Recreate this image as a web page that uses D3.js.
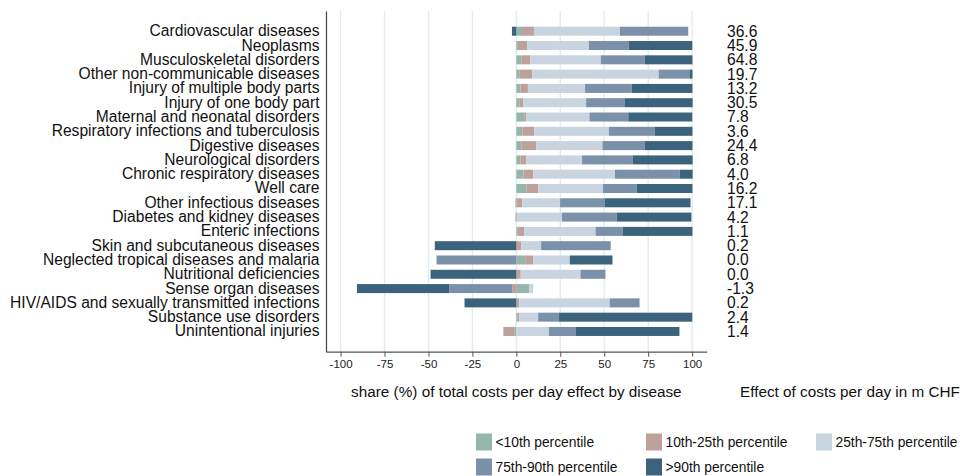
<!DOCTYPE html>
<html>
<head>
<meta charset="utf-8">
<script src="https://cdn.jsdelivr.net/npm/d3@7"></script>
<style>
  html, body { margin: 0; padding: 0; background: #fff; }
  svg { display: block; font-family: "Liberation Sans", Arial, sans-serif; }
</style>
</head>
<body>
<svg id="chart" width="963" height="476"></svg>
<script>
const categories = [
  "Cardiovascular diseases",
  "Neoplasms",
  "Musculoskeletal disorders",
  "Other non-communicable diseases",
  "Injury of multiple body parts",
  "Injury of one body part",
  "Maternal and neonatal disorders",
  "Respiratory infections and tuberculosis",
  "Digestive diseases",
  "Neurological disorders",
  "Chronic respiratory diseases",
  "Well care",
  "Other infectious diseases",
  "Diabetes and kidney diseases",
  "Enteric infections",
  "Skin and subcutaneous diseases",
  "Neglected tropical diseases and malaria",
  "Nutritional deficiencies",
  "Sense organ diseases",
  "HIV/AIDS and sexually transmitted infections",
  "Substance use disorders",
  "Unintentional injuries"
];

const seriesKeys = ["<10th percentile", "10th-25th percentile", "25th-75th percentile", "75th-90th percentile", ">90th percentile"];

const below10 = [3.2, 0.9, 2.8, 1.7, 2.3, 1.7, 4.5, 3.4, 2.8, 2.3, 4.0, 5.7, -0.5, -0.5, 0.5, 0.0, 5.0, 0.3, 7.3, 0.2, 0.5, -1.2];
const p10to25 = [6.8, 5.3, 5.1, 7.4, 4.3, 2.3, 1.1, 6.8, 8.5, 3.4, 5.7, 6.8, 3.4, 0.5, 4.0, 2.8, 4.5, 2.2, -2.4, 1.4, 1.1, -6.2];
const p25to75 = [48.9, 35.1, 40.2, 71.9, 32.5, 35.7, 36.0, 42.5, 37.7, 31.7, 46.4, 36.8, 21.5, 25.5, 40.6, 11.3, 20.9, 34.0, 2.3, 51.5, 10.8, 18.6];
const p75to90 = [38.9, 22.6, 24.9, 17.5, 26.6, 22.1, 22.1, 26.0, 24.0, 28.9, 36.8, 19.2, 25.5, 31.1, 15.5, 39.6, -45.4, 14.2, -35.7, 17.0, 11.9, 15.3];
const above90 = [-2.5, 36.2, 27.2, 1.7, 34.5, 38.5, 36.4, 21.5, 27.2, 34.0, 7.4, 31.7, 48.7, 42.5, 39.6, -46.4, 24.3, -48.8, -52.6, -29.5, 75.8, 58.9];

const effectLabels = ["36.6", "45.9", "64.8", "19.7", "13.2", "30.5", "7.8", "3.6", "24.4", "6.8", "4.0", "16.2", "17.1", "4.2", "1.1", "0.2", "0.0", "0.0", "-1.3", "0.2", "2.4", "1.4"];

const tickValues = [-100, -75, -50, -25, 0, 25, 50, 75, 100];

const colors = ["#94b6ab", "#bfa19b", "#c8d4df", "#7b91a9", "#3c637d"];

const rows = categories.map((c, i) => ({
  category: c,
  [seriesKeys[0]]: below10[i],
  [seriesKeys[1]]: p10to25[i],
  [seriesKeys[2]]: p25to75[i],
  [seriesKeys[3]]: p75to90[i],
  [seriesKeys[4]]: above90[i]
}));

const svg = d3.select("#chart");

const x = d3.scaleLinear().domain([-108.3, 108.3]).range([326, 706.7]);
const y = d3.scaleBand().domain(categories).range([11, 351.7]).paddingInner(0.37).paddingOuter(1.1);
const color = d3.scaleOrdinal().domain(seriesKeys).range(colors);

// grid lines
svg.append("g").selectAll("line").data(tickValues).join("line")
  .attr("x1", d => x(d)).attr("x2", d => x(d))
  .attr("y1", 11).attr("y2", 351.7)
  .attr("stroke", "#e2ecef").attr("stroke-width", 1.4);

// stacked bars
const stacked = d3.stack().keys(seriesKeys).offset(d3.stackOffsetDiverging)(rows);
svg.append("g").selectAll("g").data(stacked).join("g")
  .attr("fill", d => color(d.key))
  .selectAll("rect").data(d => d).join("rect")
  .attr("x", d => x(Math.min(d[0], d[1])))
  .attr("width", d => Math.abs(x(d[1]) - x(d[0])))
  .attr("y", d => y(d.data.category))
  .attr("height", y.bandwidth());

// left axis (category labels)
const yAxis = svg.append("g").attr("transform", "translate(326,0)")
  .call(d3.axisLeft(y).tickSize(0).tickPadding(6.5));
yAxis.select(".domain").attr("stroke", "#444").attr("stroke-width", 1.2);
yAxis.selectAll("text").attr("font-size", "15.6px").attr("fill", "#111")
  .attr("font-family", "Liberation Sans, Arial, sans-serif");

// bottom axis
const xAxis = svg.append("g").attr("transform", "translate(0,351.7)")
  .call(d3.axisBottom(x).tickValues(tickValues).tickFormat(d => String(d)).tickSize(5).tickSizeOuter(0).tickPadding(3));
xAxis.select(".domain").attr("stroke", "#555").attr("stroke-width", 1.2);
xAxis.selectAll(".tick line").attr("stroke", "#555");
xAxis.selectAll("text").attr("font-size", "11.5px").attr("fill", "#222")
  .attr("font-family", "Liberation Sans, Arial, sans-serif");

// effect values
svg.append("g").selectAll("text").data(categories).join("text")
  .attr("x", 727)
  .attr("y", d => y(d) + y.bandwidth() / 2)
  .attr("dy", "0.35em")
  .attr("font-size", "15.6px").attr("fill", "#111")
  .text((d, i) => effectLabels[i]);

// titles
svg.append("text").attr("x", x(0)).attr("y", 397).attr("text-anchor", "middle")
  .attr("font-size", "15.3px").attr("fill", "#111")
  .text("share (%) of total costs per day effect by disease");
svg.append("text").attr("x", 740).attr("y", 397)
  .attr("font-size", "15.3px").attr("fill", "#111")
  .text("Effect of costs per day in m CHF");

// legend
const legendPos = [[476, 442], [646, 442], [816, 442], [476, 467], [646, 467]];
const lg = svg.append("g").selectAll("g").data(seriesKeys).join("g")
  .attr("transform", (d, i) => `translate(${legendPos[i][0]},${legendPos[i][1]})`);
lg.append("rect").attr("x", 0).attr("y", -8.5).attr("width", 16).attr("height", 17)
  .attr("fill", d => color(d));
lg.append("text").attr("x", 19.5).attr("y", 0).attr("dy", "0.35em")
  .attr("font-size", "13.8px").attr("fill", "#111").text(d => d);
</script>
</body>
</html>
